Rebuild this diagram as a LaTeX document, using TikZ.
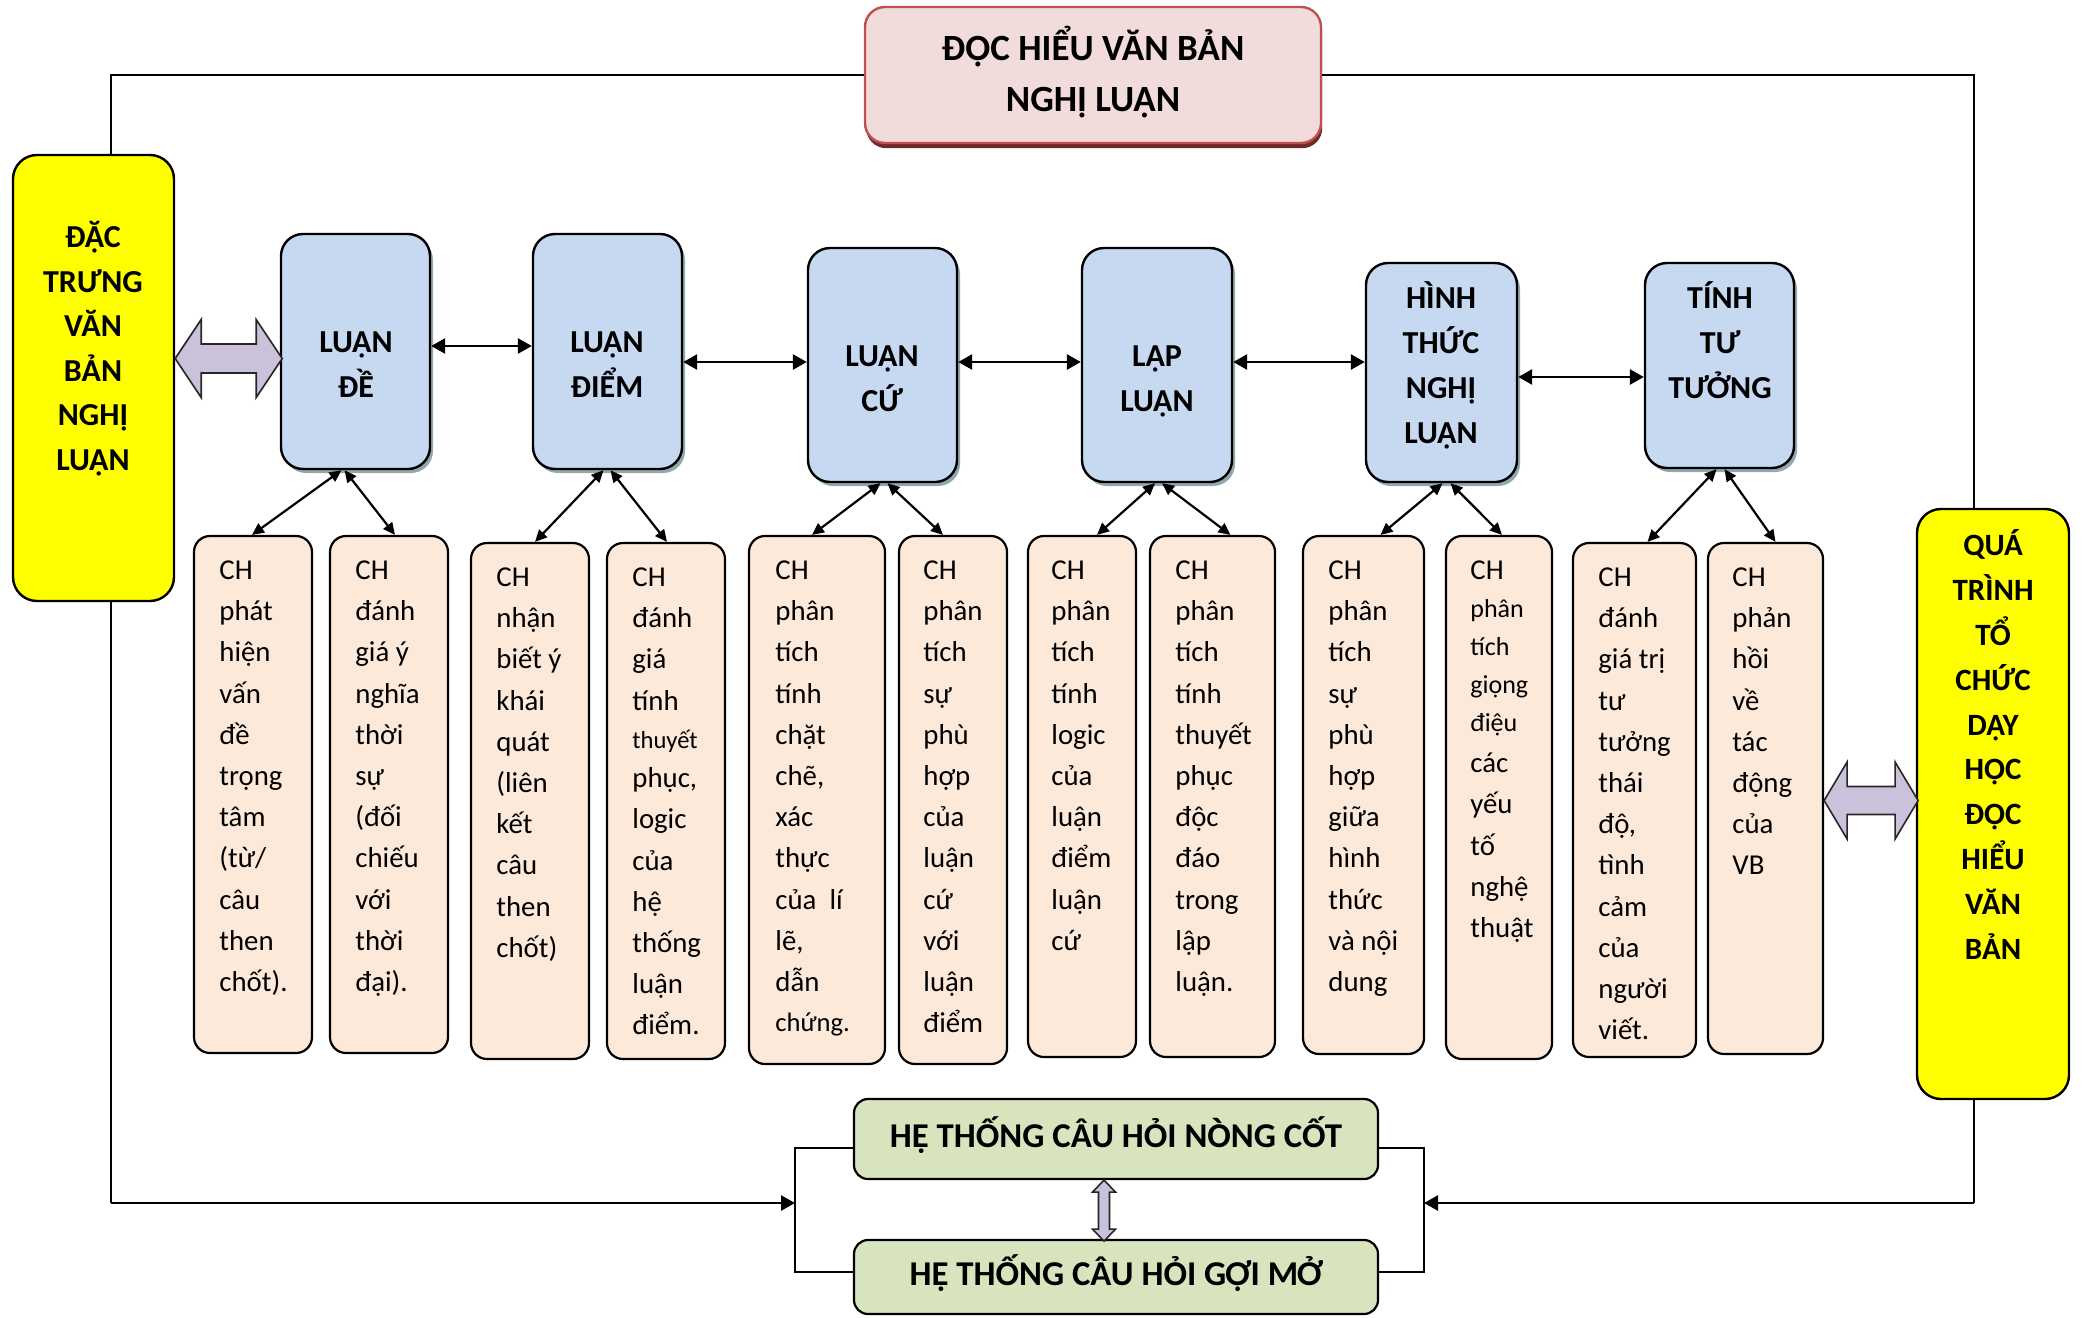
\documentclass[tikz,border=0pt]{standalone}
\usepackage{fontspec}
\setmainfont{Carlito}
\usetikzlibrary{arrows.meta,shadows}

\definecolor{bluefill}{HTML}{C6D9F1}
\definecolor{blueshadow}{HTML}{8FA7AD}
\definecolor{cellfill}{HTML}{FDE9D9}
\definecolor{titlefill}{HTML}{F2DCDB}
\definecolor{titleline}{HTML}{C0504D}
\definecolor{titleshadow}{HTML}{6E2B29}
\definecolor{greenfill}{HTML}{D7E4BD}
\definecolor{blockfill}{HTML}{CCC1DA}
\definecolor{yellowfill}{HTML}{FFFF00}

% box given by its corners in pixel units: name, style, x1, y1, x2, y2
\newcommand\pxbox[6]{%
  \node[#2, inner sep=0pt, minimum width={((#5)-(#3))*0.5pt},
        minimum height={((#6)-(#4))*0.5pt}]
        (#1) at ({((#3)+(#5))/2},{((#4)+(#6))/2}) {};}
\newcommand\smallword[2]{{\fontsize{#1}{14}\selectfont #2}}

\begin{document}
\begin{tikzpicture}[x=0.5pt, y=-0.5pt,
  frame/.style={line width=0.9pt, draw=black},
  bluebox/.style={draw, line width=1.2pt, rounded corners=11pt, fill=bluefill,
    drop shadow={shadow xshift=1.5pt, shadow yshift=-2pt, fill=blueshadow, opacity=1}},
  cellbox/.style={draw, line width=1.1pt, rounded corners=8pt, fill=cellfill},
  yellowbox/.style={draw, line width=1.2pt, rounded corners=12pt, fill=yellowfill},
  titlebox/.style={draw=titleline, line width=1.2pt, rounded corners=10pt, fill=titlefill,
    drop shadow={shadow xshift=0.6pt, shadow yshift=-2.6pt, fill=titleshadow, opacity=1}},
  greenbox/.style={draw, line width=1.1pt, rounded corners=7pt, fill=greenfill},
  greentext/.style={font=\bfseries\fontsize{17.4}{20}\selectfont, yshift=1.8pt},
  block/.style={draw=black!85, line width=0.8pt, fill=blockfill, line join=miter},
  celltext/.style={font=\fontsize{14.4}{20.6}\selectfont, align=left, inner sep=0pt,
    anchor=north west, yshift=14.42pt},
  bluetext/.style={font=\bfseries\fontsize{16}{22.5}\selectfont, align=center,
    inner sep=0pt, anchor=north, yshift=15.75pt},
  ylefttext/.style={font=\bfseries\fontsize{16}{22.3}\selectfont, align=center,
    inner sep=0pt, anchor=north, yshift=15.61pt},
  yrighttext/.style={font=\bfseries\fontsize{15.5}{22.45}\selectfont, align=center,
    inner sep=0pt, anchor=north, yshift=15.72pt},
  harrow/.style={line width=1.35pt, {Triangle[length=7pt,width=7.5pt]}-{Triangle[length=7pt,width=7.5pt]}},
  darrow/.style={line width=1.1pt, {Triangle[length=6pt,width=5.5pt]}-{Triangle[length=6pt,width=5.5pt]}},
  bigarrow/.style={line width=1.35pt, -{Triangle[length=7pt,width=7.5pt]}},
]
\useasboundingbox (0,0) rectangle (2082,1317);

% ---------- title ----------
\pxbox{title}{titlebox}{865}{7}{1321}{143}
\node[font=\bfseries\fontsize{18.5}{25.5}\selectfont, align=center, yshift=1.5pt] (titletext)
  at (title.center) {ĐỌC HIỂU VĂN BẢN\\NGHỊ LUẬN};

% ---------- frame lines (drawn under the side boxes) ----------
\coordinate (lc) at (111,1203);
\coordinate (rc) at (1974,1203);
\coordinate (bl) at (795,1203);
\coordinate (br) at (1424,1203);
\draw[frame] (title.west) -| (lc);
\draw[frame] (title.east) -| (rc);

% ---------- side boxes ----------
\pxbox{y1}{yellowbox}{13}{155}{174}{601}
\node[ylefttext] (y1t) at (93,247) {\strut ĐẶC\\TRƯNG\\VĂN\\BẢN\\NGHỊ\\LUẬN};
\pxbox{y2}{yellowbox}{1917}{509}{2069}{1099}
\node[yrighttext] (y2t) at (1993,555)
  {\strut QUÁ\\TRÌNH\\TỔ\\CHỨC\\DẠY\\HỌC\\ĐỌC\\HIỂU\\VĂN\\BẢN};

% ---------- main concepts ----------
\pxbox{b1}{bluebox}{281}{234}{430}{469}
\pxbox{b2}{bluebox}{533}{234}{682}{469}
\pxbox{b3}{bluebox}{808}{248}{957}{482}
\pxbox{b4}{bluebox}{1082}{248}{1232}{482}
\pxbox{b5}{bluebox}{1366}{263}{1517}{482}
\pxbox{b6}{bluebox}{1645}{263}{1794}{468}
\node[bluetext] (b1t) at (356,352) {\strut LUẬN\\ĐỀ};
\node[bluetext] (b2t) at (607,352) {\strut LUẬN\\ĐIỂM};
\node[bluetext] (b3t) at (882,366) {\strut LUẬN\\CỨ};
\node[bluetext] (b4t) at (1157,366) {\strut LẬP\\LUẬN};
\node[bluetext] (b5t) at (1441,308) {\strut HÌNH\\THỨC\\NGHỊ\\LUẬN};
\node[bluetext] (b6t) at (1720,308) {\strut TÍNH\\TƯ\\TƯỞNG};

% ---------- question cells ----------
\pxbox{c1}{cellbox}{194}{536}{312}{1053}
\pxbox{c2}{cellbox}{330}{536}{448}{1053}
\pxbox{c3}{cellbox}{471}{543}{589}{1059}
\pxbox{c4}{cellbox}{607}{543}{725}{1059}
\pxbox{c5}{cellbox}{749}{536}{885}{1064}
\pxbox{c6}{cellbox}{899}{536}{1007}{1064}
\pxbox{c7}{cellbox}{1028}{536}{1136}{1057}
\pxbox{c8}{cellbox}{1150}{536}{1275}{1057}
\pxbox{c9}{cellbox}{1303}{536}{1424}{1054}
\pxbox{c10}{cellbox}{1446}{536}{1552}{1059}
\pxbox{c11}{cellbox}{1573}{543}{1696}{1057}
\pxbox{c12}{cellbox}{1708}{543}{1823}{1054}

\node[celltext] (t1) at (219,579)
  {\strut CH\\phát\\hiện\\vấn\\đề\\trọng\\tâm\\(từ/\\câu\\then\\chốt).};
\node[celltext] (t2) at (355,579)
  {\strut CH\\đánh\\giá ý\\nghĩa\\thời\\sự\\(đối\\chiếu\\với\\thời\\đại).};
\node[celltext] (t3) at (496,586)
  {\strut CH\\nhận\\biết ý\\khái\\quát\\(liên\\kết\\câu\\then\\chốt)};
\node[celltext] (t4) at (632,586)
  {\strut CH\\đánh\\giá\\tính\\[-1.2pt]\smallword{12.3}{thuyết}\\[-1.2pt]phục,\\logic\\của\\hệ\\thống\\luận\\điểm.};
\node[celltext] (t5) at (775,579)
  {\strut CH\\phân\\tích\\tính\\chặt\\chẽ,\\xác\\thực\\của\ \ lí\\lẽ,\\dẫn\\[-0.8pt]\smallword{13.3}{chứng.}};
\node[celltext] (t6) at (923,579)
  {\strut CH\\phân\\tích\\sự\\phù\\hợp\\của\\luận\\cứ\\với\\luận\\điểm};
\node[celltext] (t7) at (1051,579)
  {\strut CH\\phân\\tích\\tính\\logic\\của\\luận\\điểm\\luận\\cứ};
\node[celltext] (t8) at (1175,579)
  {\strut CH\\phân\\tích\\tính\\thuyết\\phục\\độc\\đáo\\trong\\lập\\luận.};
\node[celltext] (t9) at (1328,579)
  {\strut CH\\phân\\tích\\sự\\phù\\hợp\\giữa\\hình\\thức\\và nội\\dung};
\node[celltext] (t10) at (1470,579)
  {\strut CH\\[-1.6pt]\smallword{13}{phân}\\[-1.6pt]\smallword{13}{tích}\\[-1.6pt]%
   \smallword{13}{giọng}\\[-1.6pt]\smallword{13}{điệu}\\các\\yếu\\tố\\nghệ\\thuật};
\node[celltext] (t11) at (1598,586)
  {\strut CH\\đánh\\giá trị\\tư\\tưởng\\thái\\độ,\\tình\\cảm\\của\\người\\viết.};
\node[celltext] (t12) at (1732,586)
  {\strut CH\\phản\\hồi\\về\\tác\\động\\của\\VB};

% ---------- question systems ----------
\pxbox{g1}{greenbox}{854}{1099}{1378}{1179}
\node[greentext] (g1t) at (g1.center) {HỆ THỐNG CÂU HỎI NÒNG CỐT};
\pxbox{g2}{greenbox}{854}{1240}{1378}{1314}
\node[greentext] (g2t) at (g2.center) {HỆ THỐNG CÂU HỎI GỢI MỞ};

% ---------- connectors between concepts ----------
\coordinate (r1) at (0,346);
\coordinate (r2) at (0,362);
\coordinate (r3) at (0,377);
\draw[harrow] (b1.east |- r1) -- (b2.west |- r1);
\draw[harrow] (b2.east |- r2) -- (b3.west |- r2);
\draw[harrow] (b3.east |- r2) -- (b4.west |- r2);
\draw[harrow] (b4.east |- r2) -- (b5.west |- r2);
\draw[harrow] (b5.east |- r3) -- (b6.west |- r3);

% ---------- concept to question connectors ----------
\draw[darrow] ([xshift=-7pt]b1.south) -- ([xshift=-0.5pt]c1.north);
\draw[darrow] ([xshift=-5.5pt]b1.south) -- ([xshift=3pt]c2.north);
\draw[darrow] ([xshift=-2pt]b2.south) -- ([xshift=2.5pt]c3.north);
\draw[darrow] ([xshift=1.5pt]b2.south) -- ([xshift=0.5pt]c4.north);
\draw[darrow] ([xshift=-1pt]b3.south) -- ([xshift=-2.5pt]c5.north);
\draw[darrow] ([xshift=2.5pt]b3.south) -- ([xshift=-5pt]c6.north);
\draw[darrow] ([xshift=-1pt]b4.south) -- ([xshift=7.5pt]c7.north);
\draw[darrow] ([xshift=2.5pt]b4.south) -- ([xshift=9pt]c8.north);
\draw[darrow] ([xshift=0.5pt]b5.south) -- ([xshift=8.5pt]c9.north);
\draw[darrow] ([xshift=4.5pt]b5.south) -- ([xshift=1.5pt]c10.north);
\draw[darrow] ([xshift=-1.5pt]b6.south) -- ([xshift=6.5pt]c11.north);
\draw[darrow] ([xshift=2.5pt]b6.south) -- ([xshift=5pt]c12.north);

% ---------- block arrows ----------
\coordinate (la) at (0,358.5);
\coordinate (ra) at (0,800.5);
\coordinate (va) at (1104,0);
\draw[block] (y1.east |- la) -- ++(26,-39) -- ++(0,24.5) -- ++(55,0) -- ++(0,-24.5)
  -- ++(26,39) -- ++(-26,39) -- ++(0,-24.5) -- ++(-55,0) -- ++(0,24.5) -- cycle;
\draw[block] (c12.east |- ra) -- ++(23,-38.5) -- ++(0,24.5) -- ++(48,0) -- ++(0,-24.5)
  -- ++(23,38.5) -- ++(-23,38.5) -- ++(0,-24.5) -- ++(-48,0) -- ++(0,24.5) -- cycle;
\draw[block] (va |- g1.south) -- ++(11.5,12) -- ++(-6,0) -- ++(0,37) -- ++(6,0)
  -- ++(-11.5,12) -- ++(-11.5,-12) -- ++(6,0) -- ++(0,-37) -- ++(-6,0) -- cycle;

% ---------- brackets and incoming arrows ----------
\draw[frame] ([yshift=-4.5pt]g1.west) -| (bl) |- ([yshift=2.5pt]g2.west);
\draw[frame] ([yshift=-4.5pt]g1.east) -| (br) |- ([yshift=2.5pt]g2.east);
\draw[bigarrow] (lc) -- (bl);
\draw[bigarrow] (rc) -- (br);
\end{tikzpicture}
\end{document}
